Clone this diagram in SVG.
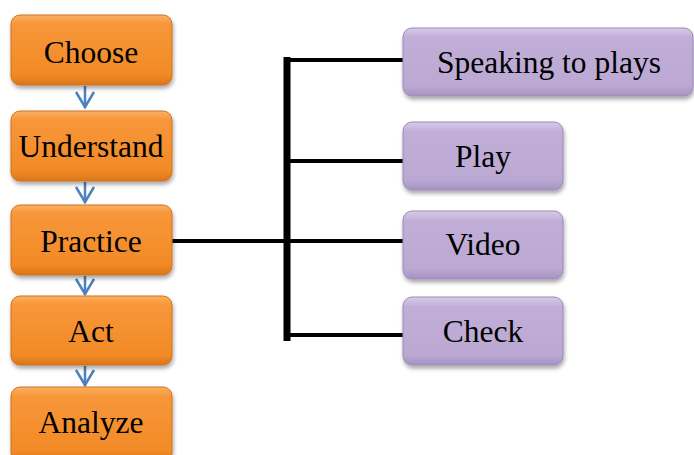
<svg xmlns="http://www.w3.org/2000/svg" width="694" height="455" viewBox="0 0 694 455">
<defs>
<linearGradient id="go" x1="0" y1="0" x2="0" y2="1">
<stop offset="0" stop-color="#fbb062"/>
<stop offset="0.12" stop-color="#f7973a"/>
<stop offset="0.85" stop-color="#f28a26"/>
<stop offset="1" stop-color="#d9761a"/>
</linearGradient>
<linearGradient id="gp" x1="0" y1="0" x2="0" y2="1">
<stop offset="0" stop-color="#d8cbe8"/>
<stop offset="0.14" stop-color="#c0aed8"/>
<stop offset="0.85" stop-color="#bba8d3"/>
<stop offset="1" stop-color="#a592c0"/>
</linearGradient>
<filter id="sh" x="-10%" y="-10%" width="125%" height="135%">
<feGaussianBlur in="SourceAlpha" stdDeviation="2"/>
<feOffset dx="1" dy="3" result="b"/>
<feComponentTransfer><feFuncA type="linear" slope="0.35"/></feComponentTransfer>
<feMerge><feMergeNode/><feMergeNode in="SourceGraphic"/></feMerge>
</filter>
</defs>
<style>
.o{fill:url(#go);stroke:#d0701e;stroke-width:1;filter:url(#sh)}
.p{fill:url(#gp);stroke:#9c8ab7;stroke-width:1;filter:url(#sh)}
.t{font-family:'Liberation Serif','Times New Roman',serif;font-size:31.5px;fill:#000;text-anchor:middle}
.ln{stroke:#000;fill:none}
.a{stroke:#4f81bd;stroke-width:2.5;fill:none}
</style>
<rect width="694" height="455" fill="#fff"/>
<g id="connectors">
<line class="a" x1="85" y1="86" x2="85" y2="108"/>
<path class="a" d="M76,92 L85,107 L94,92"/>
<line class="a" x1="85" y1="182" x2="85" y2="203"/>
<path class="a" d="M76,187 L85,202 L94,187"/>
<line class="a" x1="85" y1="276" x2="85" y2="295"/>
<path class="a" d="M76,279 L85,294 L94,279"/>
<line class="a" x1="85" y1="366" x2="85" y2="386"/>
<path class="a" d="M76,370 L85,385 L94,370"/>
<line class="ln" stroke-width="4" x1="172" y1="241" x2="287" y2="241"/>
<line class="ln" stroke-width="7" x1="287" y1="57" x2="287" y2="341"/>
<line class="ln" stroke-width="4" x1="284" y1="60" x2="404" y2="60"/>
<line class="ln" stroke-width="4" x1="287" y1="161" x2="404" y2="161"/>
<line class="ln" stroke-width="4" x1="287" y1="241" x2="404" y2="241"/>
<line class="ln" stroke-width="4" x1="287" y1="335" x2="404" y2="335"/>
</g>
<g id="choose"><rect class="o" x="11" y="15" width="161" height="70" rx="9"/><text class="t" x="91" y="63">Choose</text></g>
<g id="understand"><rect class="o" x="11" y="111" width="161" height="70" rx="9"/><text class="t" x="91" y="157">Understand</text></g>
<g id="practice"><rect class="o" x="11" y="205" width="161" height="70" rx="9"/><text class="t" x="91" y="252">Practice</text></g>
<g id="act"><rect class="o" x="11" y="296" width="161" height="69" rx="9"/><text class="t" x="91" y="342">Act</text></g>
<g id="analyze"><rect class="o" x="11" y="387" width="161" height="75" rx="9"/><text class="t" x="91" y="433">Analyze</text></g>
<g id="speaking"><rect class="p" x="403" y="28" width="290" height="68" rx="9"/><text class="t" x="549" y="73">Speaking to plays</text></g>
<g id="play"><rect class="p" x="403" y="122" width="160" height="68" rx="9"/><text class="t" x="483" y="167">Play</text></g>
<g id="video"><rect class="p" x="403" y="211" width="160" height="68" rx="9"/><text class="t" x="483" y="255">Video</text></g>
<g id="check"><rect class="p" x="403" y="297" width="160" height="68" rx="9"/><text class="t" x="483" y="342">Check</text></g>
</svg>
